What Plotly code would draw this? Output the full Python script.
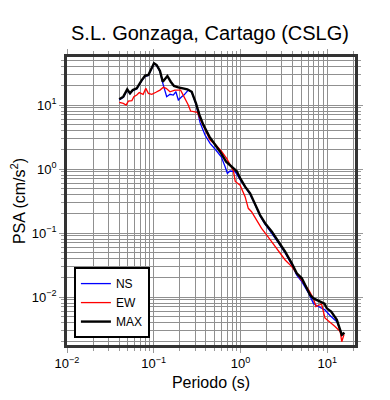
import numpy as np
import plotly.graph_objects as go

# --- data ---
t_max = [0.040, 0.0446, 0.0495, 0.0533, 0.0573, 0.0637, 0.0728, 0.0795, 0.0867, 0.0923,
         0.1007, 0.108, 0.118, 0.127, 0.135, 0.1436, 0.157, 0.171, 0.192, 0.216,
         0.244, 0.274, 0.307, 0.336, 0.373, 0.438, 0.509, 0.582, 0.683, 0.759,
         0.85, 0.906, 0.99, 1.13, 1.29, 1.47, 1.68, 1.92, 2.30, 2.74,
         3.27, 3.90, 4.45, 5.09, 5.56, 6.35, 6.94, 7.58, 8.28, 9.29,
         9.89, 11.1, 12.9, 14.1, 14.7, 15.8]
psa_max = [12.3, 13.5, 17.6, 15.2, 17.1, 18.2, 24.5, 28.7, 29.4, 35.2,
           44.8, 42.2, 34.0, 23.1, 26.1, 28.4, 23.1, 19.8, 18.9, 18.0,
           17.6, 16.1, 10.6, 7.0, 4.9, 3.2, 2.43, 1.86, 1.30, 1.15,
           1.0, 0.92, 0.72, 0.53, 0.417, 0.291, 0.191, 0.142, 0.105, 0.073,
           0.051, 0.0336, 0.0235, 0.0196, 0.0155, 0.0107, 0.0095, 0.0090, 0.00845, 0.0079,
           0.00665, 0.0059, 0.0044, 0.00305, 0.00257, 0.00277]

t_ew = [0.040, 0.0446, 0.048, 0.051, 0.056, 0.059, 0.0637, 0.068, 0.0755, 0.081,
        0.0867, 0.095, 0.106, 0.118, 0.129, 0.139, 0.154, 0.175, 0.204, 0.229,
        0.25, 0.266, 0.298, 0.318, 0.34, 0.39, 0.446, 0.52, 0.6, 0.695,
        0.76, 0.83, 0.87, 0.99, 1.13, 1.23, 1.34, 1.52, 1.75, 2.07,
        2.51, 2.86, 3.27, 3.90, 4.45, 5.3, 6.1, 6.94, 7.4, 8.1,
        8.6, 9.4, 10.7, 12.2, 14.1, 14.7, 15.6]
psa_ew = [11.0, 10.6, 10.0, 11.5, 11.7, 13.5, 14.3, 15.6, 14.7, 18.2,
          15.2, 14.7, 15.8, 17.1, 18.9, 18.2, 16.1, 17.1, 17.1, 12.7,
          10.0, 8.05, 7.9, 7.7, 6.2, 4.07, 2.84, 2.37, 1.91, 1.45,
          1.15, 0.93, 0.64, 0.56, 0.37, 0.243, 0.215, 0.16, 0.118, 0.0877,
          0.061, 0.048, 0.0379, 0.0298, 0.0234, 0.0174, 0.0129, 0.0095, 0.0071, 0.0075,
          0.0078, 0.0047, 0.0041, 0.0035, 0.0029, 0.0020, 0.0026]

t_ns = [0.040, 0.0446, 0.0495, 0.0533, 0.0573, 0.0637, 0.0728, 0.0795, 0.0867, 0.0923,
        0.1007, 0.108, 0.118, 0.127, 0.141, 0.154, 0.168, 0.18, 0.192, 0.21,
        0.223, 0.25, 0.274, 0.307, 0.342, 0.39, 0.446, 0.52, 0.6, 0.664,
        0.706, 0.759, 0.867, 0.99, 1.13, 1.29, 1.47, 1.68, 1.92, 2.30,
        2.74, 3.27, 3.90, 4.45, 5.09, 6.1, 6.94, 7.9, 9.4, 10.7,
        12.9, 14.1, 14.7, 15.3]
psa_ns = [12.0, 13.2, 17.0, 15.0, 16.8, 18.0, 24.0, 28.0, 29.0, 35.0,
          44.0, 41.5, 33.5, 22.0, 13.5, 14.7, 14.3, 16.1, 12.0, 13.5,
          14.3, 17.1, 15.8, 10.4, 5.3, 3.4, 2.52, 1.98, 1.55, 1.09,
          0.857, 0.93, 0.91, 0.68, 0.51, 0.40, 0.28, 0.185, 0.138, 0.10,
          0.07, 0.049, 0.032, 0.022, 0.0174, 0.0115, 0.0079, 0.0071, 0.0063, 0.0052,
          0.0041, 0.00305, 0.0025, 0.0027]

x_tickvals = [0.01, 0.1, 1, 10]
x_ticktext = ["10<sup>−2</sup>", "10<sup>−1</sup>", "10<sup>0</sup>", "10<sup>1</sup>"]
y_tickvals = [0.01, 0.1, 1, 10]
y_ticktext = ["10<sup>−2</sup>", "10<sup>−1</sup>", "10<sup>0</sup>", "10<sup>1</sup>"]

title_text = "S.L. Gonzaga, Cartago (CSLG)"
x_title = "Periodo (s)"
y_title = "PSA (cm/s<sup>2</sup>)"

FONT = "Liberation Sans, Arial, Helvetica, sans-serif"

fig = go.Figure()
fig.add_trace(go.Scatter(x=t_ns, y=psa_ns, mode="lines", name="NS",
                         line=dict(color="#0000ff", width=1.3)))
fig.add_trace(go.Scatter(x=t_ew, y=psa_ew, mode="lines", name="EW",
                         line=dict(color="#ff0000", width=1.3)))
fig.add_trace(go.Scatter(x=t_max, y=psa_max, mode="lines", name="MAX",
                         line=dict(color="#000000", width=2.4)))

def minor_vals(lo, hi):
    vals = []
    for e in range(lo, hi + 1):
        for m in range(2, 10):
            vals.append(m * 10.0 ** e)
    return vals

axis_common = dict(
    type="log",
    tickmode="array",
    automargin=False,
    showline=True, linecolor="#333333", linewidth=2.5,
    mirror="ticks",
    ticks="outside", ticklen=5, tickwidth=1, tickcolor="#999999",
    showgrid=True, gridcolor="#909090", gridwidth=1,
    zeroline=False,
    tickfont=dict(family=FONT, size=13, color="#000000"),
)

fig.update_xaxes(
    **axis_common,
    tickvals=x_tickvals, ticktext=x_ticktext,
    range=[-2, 1.32],
    minor=dict(tickvals=minor_vals(-2, 1), ticks="outside", ticklen=3,
               tickcolor="#999999", showgrid=True, gridcolor="#909090", gridwidth=1),
    title=dict(text=x_title, font=dict(family=FONT, size=16, color="#000000"), standoff=7),
)
fig.update_yaxes(
    **axis_common,
    tickvals=y_tickvals, ticktext=y_ticktext,
    range=[-2.75, 1.75],
    minor=dict(tickvals=minor_vals(-3, 1), ticks="outside", ticklen=3,
               tickcolor="#999999", showgrid=True, gridcolor="#909090", gridwidth=1),
    title=dict(text=y_title, font=dict(family=FONT, size=16, color="#000000"), standoff=6),
)

# the page adds an 8px body margin, so the figure is shifted up/left by 8px here
fig.update_layout(
    width=390, height=400,
    margin=dict(l=59, r=43, t=49, b=63),
    paper_bgcolor="white", plot_bgcolor="white",
    title=dict(text=title_text, x=202 / 390, xref="container", xanchor="center",
               y=1 - 25 / 400, yref="container", yanchor="middle",
               font=dict(family=FONT, size=20, color="#000000")),
    showlegend=True,
    legend=dict(x=0.024, y=0.024, xanchor="left", yanchor="bottom",
                bgcolor="white", bordercolor="#000000", borderwidth=2,
                font=dict(family=FONT, size=12, color="#000000"),
                itemwidth=30, entrywidth=45, tracegroupgap=0),
)

fig.write_html("out.html")
